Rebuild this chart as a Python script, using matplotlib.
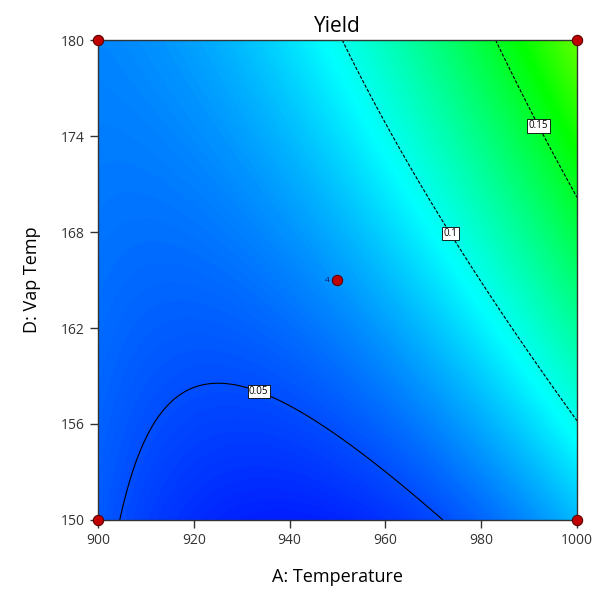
### Contour plot of the Yield response surface (A: Temperature vs D: Vap Temp)
###

import numpy as np
import matplotlib.pyplot as plt
from matplotlib.colors import LinearSegmentedColormap

# factor ranges
a_range = [900, 1000]
d_range = [150, 180]

# quadratic model in coded units: b0, A, D, AD, A^2, D^2
coef_names = ["b0", "A", "D", "AD", "A2", "D2"]
coef_values = [0.0692, 0.0363, 0.0296, 0.0241, 0.026, 0.0]

contour_levels = [0.05, 0.1, 0.15]
label_pos = [(934.5, 158.8), (974.0, 168.0), (991.0, 174.5)]

# design points
pts_a = [900, 1000, 900, 1000, 950]
pts_d = [150, 150, 180, 180, 165]
center_count = "4"

x_ticks = [900, 920, 940, 960, 980, 1000]
y_ticks = [150, 156, 162, 168, 174, 180]

plt.rcParams['font.family'] = ['Open Sans', 'DejaVu Sans']

b = dict(zip(coef_names, coef_values))
A, D = np.meshgrid(np.linspace(a_range[0], a_range[1], 400),
                   np.linspace(d_range[0], d_range[1], 400))
ca = (A - 950) / 50
cd = (D - 165) / 15
Y = (b["b0"] + b["A"] * ca + b["D"] * cd + b["AD"] * ca * cd
     + b["A2"] * ca ** 2 + b["D2"] * cd ** 2)

cmap = LinearSegmentedColormap.from_list(
    "de", ["#0000ff", "#00ffff", "#00ff00", "#ffff00", "#ff0000"])

fig = plt.figure(figsize=(6.03, 6.01), dpi=100)
ax = fig.add_axes([0.1625, 0.1348, 0.7944, 0.7986])

ax.imshow(Y, origin='lower', aspect='auto', cmap=cmap, vmin=0.03, vmax=0.29,
          extent=[a_range[0], a_range[1], d_range[0], d_range[1]],
          interpolation='bilinear')
cs = ax.contour(A, D, Y, levels=contour_levels, colors='black',
                linewidths=0.8, linestyles=['solid', (0, (3, 1.5)), (0, (3, 1.5))])
labels = ax.clabel(cs, fmt=lambda v: f"{v:g}", fontsize=7, manual=label_pos,
                   inline=False)
for t in labels:
    t.set_rotation(0)
    t.set_bbox(dict(facecolor='white', edgecolor='black', pad=1.0, lw=0.6))

ax.scatter(pts_a, pts_d, s=55, color='#c00000', edgecolors='#5a0000',
           linewidths=0.8, zorder=5, clip_on=False)
ax.text(pts_a[-1] - 1.6, pts_d[-1], center_count, fontsize=6, color='#1a1a66',
        ha='right', va='center')

ax.set_xlim(a_range)
ax.set_ylim(d_range)
ax.set_xticks(x_ticks)
ax.set_yticks(y_ticks)
ax.tick_params(direction='out', length=6, width=1, labelsize=10,
               labelcolor='#333333', color='#333333')
for s in ax.spines.values():
    s.set_color('#333333')
    s.set_linewidth(1)

ax.set_title("Yield", fontsize=15, pad=6)
ax.set_xlabel("A: Temperature", fontsize=13, labelpad=14)
ax.set_ylabel("D: Vap Temp", fontsize=13, labelpad=14)

fig.savefig("out.png", dpi=100)
